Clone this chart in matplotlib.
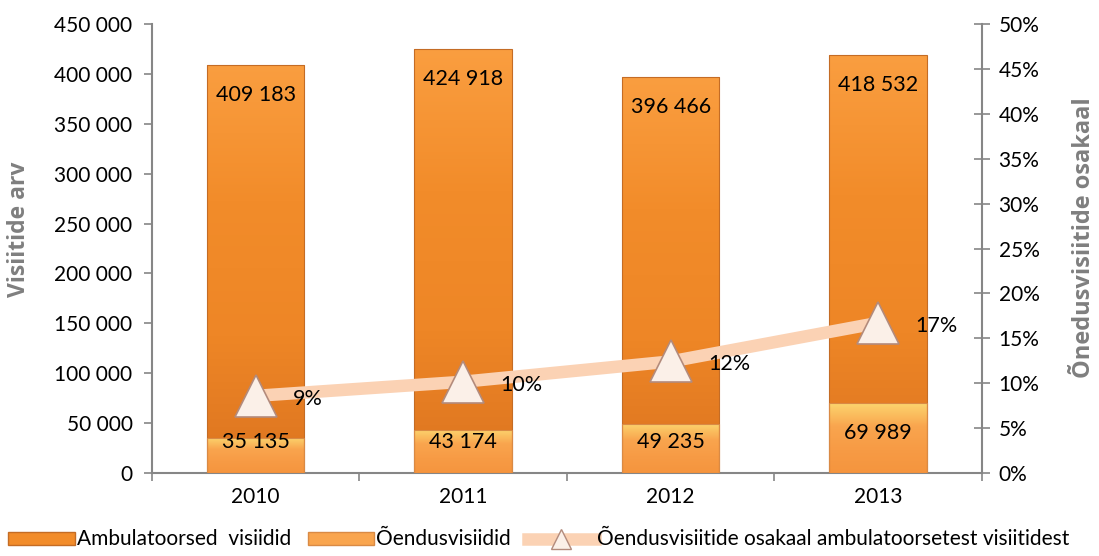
import numpy as np
import matplotlib
matplotlib.use("Agg")
import matplotlib.pyplot as plt
from matplotlib.colors import LinearSegmentedColormap
from matplotlib.lines import Line2D
from matplotlib.patches import Patch

plt.rcParams['font.family'] = ['Lato', 'DejaVu Sans']

years = ['2010', '2011', '2012', '2013']
ambulatoorsed = [409183, 424918, 396466, 418532]
oendus = [35135, 43174, 49235, 69989]
osakaal = [8.59, 10.16, 12.42, 16.72]       # %
osakaal_lbl = ['9%', '10%', '12%', '17%']

fig = plt.figure(figsize=(10.99, 5.56), dpi=100)
ax = fig.add_axes([0.1383, 0.1493, 0.7552, 0.8075])
x = np.arange(len(years))
w = 0.47

main_cmap = LinearSegmentedColormap.from_list('m', ['#FA9E40', '#F28C2A', '#EE8626', '#DC7420'])
small_cmap = LinearSegmentedColormap.from_list('s', ['#FCD56E', '#F9A54E', '#F79B45', '#F5953E'])


def gradient_bars(bars, cmap):
    for b in bars:
        x0, y0 = b.get_x(), b.get_y()
        bw, bh = b.get_width(), b.get_height()
        grad = np.linspace(0, 1, 256).reshape(-1, 1)
        im = ax.imshow(grad, cmap=cmap, aspect='auto', origin='upper',
                       extent=[x0, x0 + bw, y0, y0 + bh], zorder=b.get_zorder())
        im.set_clip_path(b)


b1 = ax.bar(x, ambulatoorsed, w, color='none', edgecolor='#C46C25', linewidth=0.8, zorder=2)
gradient_bars(b1, main_cmap)
b2 = ax.bar(x, oendus, w, color='none', edgecolor='#D98A45', linewidth=0.8, zorder=3)
gradient_bars(b2, small_cmap)
for b in list(b1) + list(b2):
    b.set_zorder(4)

off = 30000
for xi, v in zip(x, ambulatoorsed):
    ax.text(xi, v - off, f"{v:,}".replace(',', ' '), ha='center', va='center',
            fontsize=15.5, zorder=6)
for xi, v in zip(x, oendus):
    ax.text(xi, max(v - off, 31000), f"{v:,}".replace(',', ' '), ha='center',
            va='center', fontsize=15.5, zorder=6)

ax.set_xlim(-0.5, len(years) - 0.5)
ax.set_ylim(0, 450000)
ax.set_yticks(np.arange(0, 450001, 50000))
ax.set_yticklabels([f"{int(t):,}".replace(',', ' ') for t in np.arange(0, 450001, 50000)])
ax.set_xticks(x)
ax.set_xticklabels(years)
ax.set_xticks(np.arange(-0.5, len(years), 1), minor=True)
ax.tick_params(axis='x', which='major', length=0, labelsize=15, pad=10)
ax.tick_params(axis='x', which='minor', length=6, color='#868686', width=1.2)
ax.tick_params(axis='y', length=6, color='#868686', width=1.2, labelsize=15, pad=8)
for s in ['top', 'right']:
    ax.spines[s].set_visible(False)
for s in ['left', 'bottom']:
    ax.spines[s].set_color('#868686')
    ax.spines[s].set_linewidth(1.5)
ax.set_ylabel('Visiitide arv', fontsize=16.5, fontweight='bold', family='Open Sans',
              color='#7F7F7F')
ax.yaxis.set_label_coords(-0.146, 0.543)

ax2 = ax.twinx()
ax2.plot(x, osakaal, color='#FBD2B4', linewidth=9, solid_capstyle='butt', zorder=2)
ax2.plot(x, osakaal, linestyle='none', marker='^', markersize=30,
         markerfacecolor='#FBF0E8', markeredgecolor='#B38B7C', markeredgewidth=1.2, zorder=3)
for xi, v, l in zip(x, osakaal, osakaal_lbl):
    ax2.annotate(l, (xi, v), xytext=(27, -2), textcoords='offset points',
                 ha='left', va='center', fontsize=15.5)
ax2.set_ylim(0, 50)
ax2.set_yticks(np.arange(0, 51, 5))
ax2.set_yticklabels([f"{t}%" for t in range(0, 51, 5)])
ax2.tick_params(axis='y', length=12, direction='inout', color='#868686', width=1.2,
                labelsize=15, pad=6)
for s in ['top', 'left', 'bottom']:
    ax2.spines[s].set_visible(False)
ax2.spines['right'].set_color('#868686')
ax2.spines['right'].set_linewidth(1.5)
ax2.set_ylabel('Õnedusvisiitide osakaal', fontsize=17, fontweight='bold', family='Open Sans',
               color='#7F7F7F', rotation=90)
ax2.yaxis.set_label_coords(1.108, 0.525)

handles = [Patch(facecolor='#F28C2A', edgecolor='#C46C25'),
           Patch(facecolor='#F9A54E', edgecolor='#D98A45'),
           Line2D([0], [0], color='#FBD2B4', linewidth=9, marker='^', markersize=14,
                  markerfacecolor='#FBF0E8', markeredgecolor='#B38B7C')]
labels = ['Ambulatoorsed  visiidid', 'Õendusvisiidid', 'Õendusvisiitide osakaal ambulatoorsetest visiitidest']
fig.legend(handles, labels, loc='lower center', bbox_to_anchor=(0.49, -0.022), ncol=3,
           frameon=False, fontsize=15, handlelength=3.2, handleheight=0.6,
           handletextpad=0.1, columnspacing=0.8)

fig.savefig('out.png', dpi=100)
